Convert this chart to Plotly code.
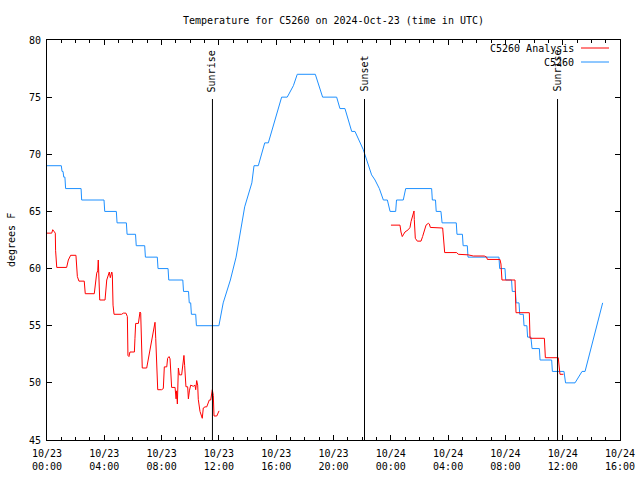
import pandas as pd
import plotly.graph_objects as go

BASE = pd.Timestamp("2024-10-23 00:00")

# Station observations (C5260): (hours since 10/23 00:00 UTC, deg F)
obs_hours = [0.0, 1.0, 1.05, 1.12, 1.17, 1.25, 1.3, 2.38, 2.42, 3.98, 4.03, 4.84, 4.89,
             5.54, 5.59, 6.18, 6.23, 6.82, 6.87, 7.70, 7.75, 8.45, 8.50, 9.48, 9.53,
             9.88, 9.93, 10.03, 10.08, 10.38, 10.43, 12.0, 12.3, 12.8, 13.2, 13.6, 13.8,
             14.3, 14.45, 14.75, 15.2, 15.45, 16.0, 16.38, 16.77, 17.2, 17.47, 18.73,
             19.24, 20.22, 20.45, 20.8, 21.27, 21.5, 22.08, 22.66, 22.9, 23.2, 23.48,
             23.76, 23.95, 24.34, 24.40, 24.87, 25.04, 26.85, 26.9, 27.12, 27.17, 27.5,
             27.58, 28.57, 28.62, 29.0, 29.05, 29.34, 29.39, 31.55, 31.6, 31.97, 32.02,
             32.43, 32.48, 32.7, 32.75, 32.95, 33.0, 33.25, 33.3, 33.5, 33.55, 33.78,
             33.86, 34.37, 34.42, 35.23, 35.28, 36.09, 36.2, 36.86, 37.35, 37.56, 38.79]
obs_temps = [69, 69, 68.5, 68.5, 68, 68, 67, 67, 66, 66, 65, 65, 64,
             64, 63, 63, 62, 62, 61, 61, 60, 60, 59, 59, 58,
             58, 57, 57, 56, 56, 55, 55, 57, 59, 61, 64, 65.4,
             67.5, 69, 69, 71, 71, 73.3, 75, 75, 76, 77, 77,
             75, 75, 74, 74, 72, 72, 70.4, 68.2, 67.75, 67, 66,
             66, 65, 65, 66, 66, 67, 67, 66, 66, 65, 65,
             64, 64, 63, 63, 62, 62, 61, 61, 60, 60, 59,
             59, 58, 58, 57, 57, 56, 56, 55, 55, 54, 54,
             53, 53, 52, 52, 51, 51, 50, 50, 51, 51, 57]

# Analysis series, first segment (10/23 00:00 - 12:00)
ana1_hours = [0.0, 0.33, 0.4, 0.51, 0.58, 0.6, 0.68, 1.37, 1.49, 1.65, 2.02, 2.12, 2.23,
              2.6, 2.67, 3.3, 3.37, 3.47, 3.54, 3.58, 3.63, 3.68, 4.05, 4.12, 4.17, 4.35,
              4.42, 4.52, 4.56, 4.61, 4.68, 5.21, 5.33, 5.51, 5.61, 5.65, 5.72, 5.79,
              6.1, 6.14, 6.19, 6.38, 6.42, 6.49, 6.54, 6.61, 6.65, 6.96, 7.05, 7.19,
              7.31, 7.42, 7.49, 7.54, 7.59, 7.66, 7.73, 8.0, 8.12, 8.19, 8.36, 8.42,
              8.52, 8.59, 8.66, 8.7, 8.94, 9.01, 9.05, 9.1, 9.17, 9.24, 9.4, 9.47,
              9.52, 9.56, 9.61, 9.7, 9.82, 9.87, 9.94, 10.03, 10.21, 10.33, 10.38,
              10.45, 10.52, 10.56, 10.68, 10.84, 10.91, 11.03, 11.15, 11.22, 11.33,
              11.43, 11.5, 11.54, 11.61, 11.66, 11.85, 11.96, 12.01]
ana1_temps = [63.1, 63.1, 63.4, 63.2, 63.1, 61.6, 60.1, 60.1, 60.75, 61.16, 61.16, 59.3, 58.9,
              58.9, 57.8, 57.8, 58.7, 59.6, 59.8, 60.75, 59.0, 57.25, 57.25, 58.3, 59.0, 59.7,
              59.2, 59.7, 59.5, 56.8, 56.0, 56.0, 56.1, 56.1, 55.8, 52.4, 52.3, 52.7,
              52.7, 53.9, 55.2, 55.2, 55.6, 56.2, 56.1, 53.75, 51.3, 51.3, 51.9, 52.7,
              53.6, 54.3, 54.9, 55.3, 53.9, 50.84, 49.4, 49.4, 49.5, 51.4, 51.4, 52.15,
              52.3, 52.1, 51.0, 49.6, 49.6, 48.6, 49.3, 48.15, 51.3, 50.7, 50.7, 51.5,
              52.2, 52.4, 51.5, 49.66, 49.66, 48.6, 49.3, 49.8, 49.7, 49.8, 49.4,
              50.2, 49.8, 48.56, 47.5, 46.9, 47.8, 47.9, 47.9, 48.2, 48.5,
              48.5, 48.9, 49.4, 48.9, 47.1, 47.1, 47.55, 47.55]

# Analysis series, second segment (10/24 00:00 - 12:00)
ana2_hours = [24.01, 24.64, 24.71, 24.8, 24.87, 24.99, 25.22, 25.34, 25.41, 25.53, 25.62,
              25.64, 25.71, 25.85, 26.11, 26.22, 26.32, 26.46, 26.62, 26.69, 26.76, 27.16,
              27.62, 27.69, 27.76, 28.6, 28.71, 29.41, 29.76, 30.53, 30.69, 30.74, 31.62,
              31.69, 31.76, 32.67, 32.74, 33.67, 33.72, 34.72, 34.79, 35.69, 35.74, 35.81,
              36.05]
ana2_temps = [63.8, 63.8, 63.2, 62.8, 62.95, 63.2, 63.4, 63.6, 64.1, 64.7, 65.04,
              64.3, 62.65, 62.4, 62.4, 62.8, 63.2, 63.8, 63.96, 63.9, 63.6, 63.6,
              63.55, 62.5, 61.4, 61.4, 61.25, 61.2, 61.1, 61.1, 61.0, 60.8, 60.8,
              60.4, 59.0, 59.0, 56.14, 56.14, 53.9, 53.9, 52.2, 52.2, 51.3, 50.75,
              50.75]

# Sun events (hours since 10/23 00:00 UTC)
event_hours = [11.55, 22.165, 35.64]
event_labels = ["Sunrise", "Sunset", "Sunrise"]

y_ticks = [45, 50, 55, 60, 65, 70, 75, 80]


def to_time(hours):
    return [BASE + pd.Timedelta(hours=h) for h in hours]


ana_x = to_time(ana1_hours) + [None] + to_time(ana2_hours)
ana_y = ana1_temps + [None] + ana2_temps

FONT = "DejaVu Sans Mono"
RED = "#ff0000"
BLUE = "#1e90ff"

fig = go.Figure()
fig.add_trace(go.Scatter(x=to_time(obs_hours), y=obs_temps, mode="lines",
                         line=dict(color=BLUE, width=1),
                         name="C5260", showlegend=False))
fig.add_trace(go.Scatter(x=ana_x, y=ana_y, mode="lines",
                         line=dict(color=RED, width=1), connectgaps=False,
                         name="C5260 Analysis", showlegend=False))

# plot-area geometry in pixels (for legend / label placement)
L, R, T, B = 47, 620, 40, 440
W, H = R - L, B - T


def px(xp):
    return (xp - L) / W


def py(yp):
    return (B - yp) / H


line_top = py(99)
for h, lab in zip(event_hours, event_labels):
    t = BASE + pd.Timedelta(hours=h)
    fig.add_shape(type="line", xref="x", yref="paper", x0=t, x1=t, y0=0, y1=line_top,
                  line=dict(color="black", width=1))
    fig.add_annotation(x=t, xref="x", y=line_top, yref="paper", text=lab,
                       textangle=-90, showarrow=False, xanchor="center", yanchor="bottom",
                       yshift=5, font=dict(family=FONT, size=10, color="black"))

# legend (gnuplot style: text then line sample)
for name, color, ypx in [("C5260 Analysis", RED, 48), ("C5260", BLUE, 62)]:
    fig.add_annotation(x=px(576), xref="paper", y=py(ypx), yref="paper", text=name,
                       showarrow=False, xanchor="right", yanchor="middle",
                       font=dict(family=FONT, size=10, color="black"))
    fig.add_shape(type="line", xref="paper", yref="paper", x0=px(581), x1=px(609),
                  y0=py(ypx), y1=py(ypx), line=dict(color=color, width=1))

fig.add_annotation(x=px(11), xref="paper", y=0.5, yref="paper", text="degrees F",
                   textangle=-90, showarrow=False, xanchor="center", yanchor="middle",
                   font=dict(family=FONT, size=10, color="black"))

fig.update_layout(
    width=640, height=480,
    margin=dict(l=L, r=640 - R, t=T, b=480 - B),
    paper_bgcolor="white", plot_bgcolor="white",
    font=dict(family=FONT, size=10, color="black"),
    title=dict(text="Temperature for C5260 on 2024-Oct-23 (time in UTC)",
               x=0.5, xref="paper", y=1 - 20 / 480, yanchor="middle",
               font=dict(family=FONT, size=10, color="black")),
    showlegend=False,
)
fig.update_xaxes(
    range=[BASE, BASE + pd.Timedelta(hours=40)],
    tick0=BASE, dtick=4 * 3600 * 1000, tickformat="%m/%d<br>%H:%M",
    ticks="inside", ticklen=5, tickcolor="black", tickwidth=1,
    minor=dict(dtick=3600 * 1000, ticks="inside", ticklen=3, tickcolor="black", showgrid=False),
    showline=True, linecolor="black", linewidth=1, mirror="allticks",
    showgrid=False, zeroline=False, automargin=False, ticklabelstandoff=4,
    tickfont=dict(family=FONT, size=10, color="black"),
)
fig.update_yaxes(
    range=[45, 80], tickvals=y_ticks,
    ticks="inside", ticklen=5, tickcolor="black", tickwidth=1,
    showline=True, linecolor="black", linewidth=1, mirror="allticks",
    showgrid=False, zeroline=False, automargin=False, ticklabelstandoff=3,
    tickfont=dict(family=FONT, size=10, color="black"),
)

fig.write_html("out.html", config={"displayModeBar": False},
               post_script="document.body.style.margin='0px';")
